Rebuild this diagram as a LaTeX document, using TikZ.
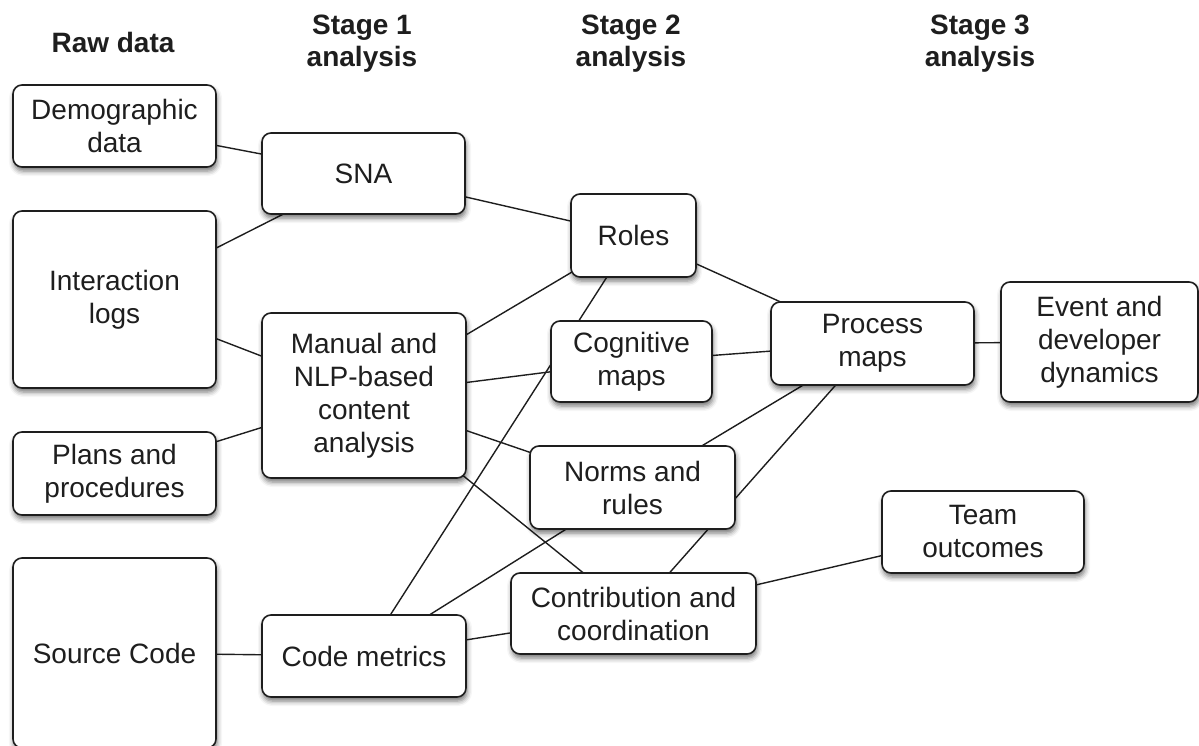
\documentclass[tikz,border=0pt]{standalone}
\usepackage{fontspec}
\setmainfont{Liberation Sans}
\usetikzlibrary{shadows.blur,backgrounds}
\definecolor{ink}{HTML}{1E1E1E}
\tikzset{
  box/.style={draw=ink, line width=1.6pt, fill=white, rounded corners=9pt,
    align=center, inner sep=0pt, text=ink,
    font=\fontsize{28}{33}\selectfont,
    blur shadow={shadow xshift=1pt, shadow yshift=-4pt, shadow blur radius=5pt, shadow opacity=55}},
  head/.style={align=center, inner sep=0pt, anchor=north, text=ink,
    font=\fontsize{28}{32}\selectfont\bfseries},
  link/.style={draw=ink, line width=1.4pt}
}
\newcommand{\bx}[6]{% name, x1, y1, x2, y2, text
  \node[box, minimum width={#4-#2}, minimum height={#5-#3}] (#1) at ({(#2+#4)/2},{(#3+#5)/2}) {#6};}
\begin{document}
\begin{tikzpicture}[x=1pt,y=-1pt]
\useasboundingbox (0,0) rectangle (1199,746);
% headers
\node[head] (h0) at (113,32) {Raw data};
\node[head] (h1) at (362,15) {Stage 1\\analysis};
\node[head] (h2) at (631,15) {Stage 2\\analysis};
\node[head] (h3) at (980,15) {Stage 3\\analysis};
% boxes
\bx{demo}{13}{85}{216}{167}{Demographic\\data}
\bx{inter}{13}{211}{216}{388}{Interaction\\logs}
\bx{plans}{13}{432}{216}{515}{Plans and\\procedures}
\bx{source}{13}{558}{216}{748}{Source Code}
\bx{sna}{262}{133}{465}{214}{SNA}
\bx{manual}{262}{313}{466}{478}{Manual and\\NLP-based\\content\\analysis}
\bx{code}{262}{615}{466}{697}{Code metrics}
\bx{roles}{571}{194}{696}{277}{Roles}
\bx{cog}{551}{321}{712}{402}{Cognitive\\maps}
\bx{norms}{530}{446}{735}{529}{Norms and\\rules}
\bx{contrib}{511}{573}{756}{654}{Contribution and\\coordination}
\bx{process}{771}{302}{974}{385}{Process\\maps}
\bx{event}{1001}{282}{1198}{402}{Event and\\developer\\dynamics}
\bx{team}{882}{491}{1084}{573}{Team\\outcomes}
% connectors
\begin{scope}[on background layer]
\foreach \a/\b in {demo/sna, inter/sna, inter/manual, plans/manual, source/code,
  sna/roles, manual/roles, manual/cog, manual/norms, manual/contrib,
  code/roles, code/norms, code/contrib, roles/process, cog/process,
  norms/process, contrib/process, contrib/team, process/event}
  \draw[link] (\a.center) -- (\b.center);
\end{scope}
\end{tikzpicture}
\end{document}
